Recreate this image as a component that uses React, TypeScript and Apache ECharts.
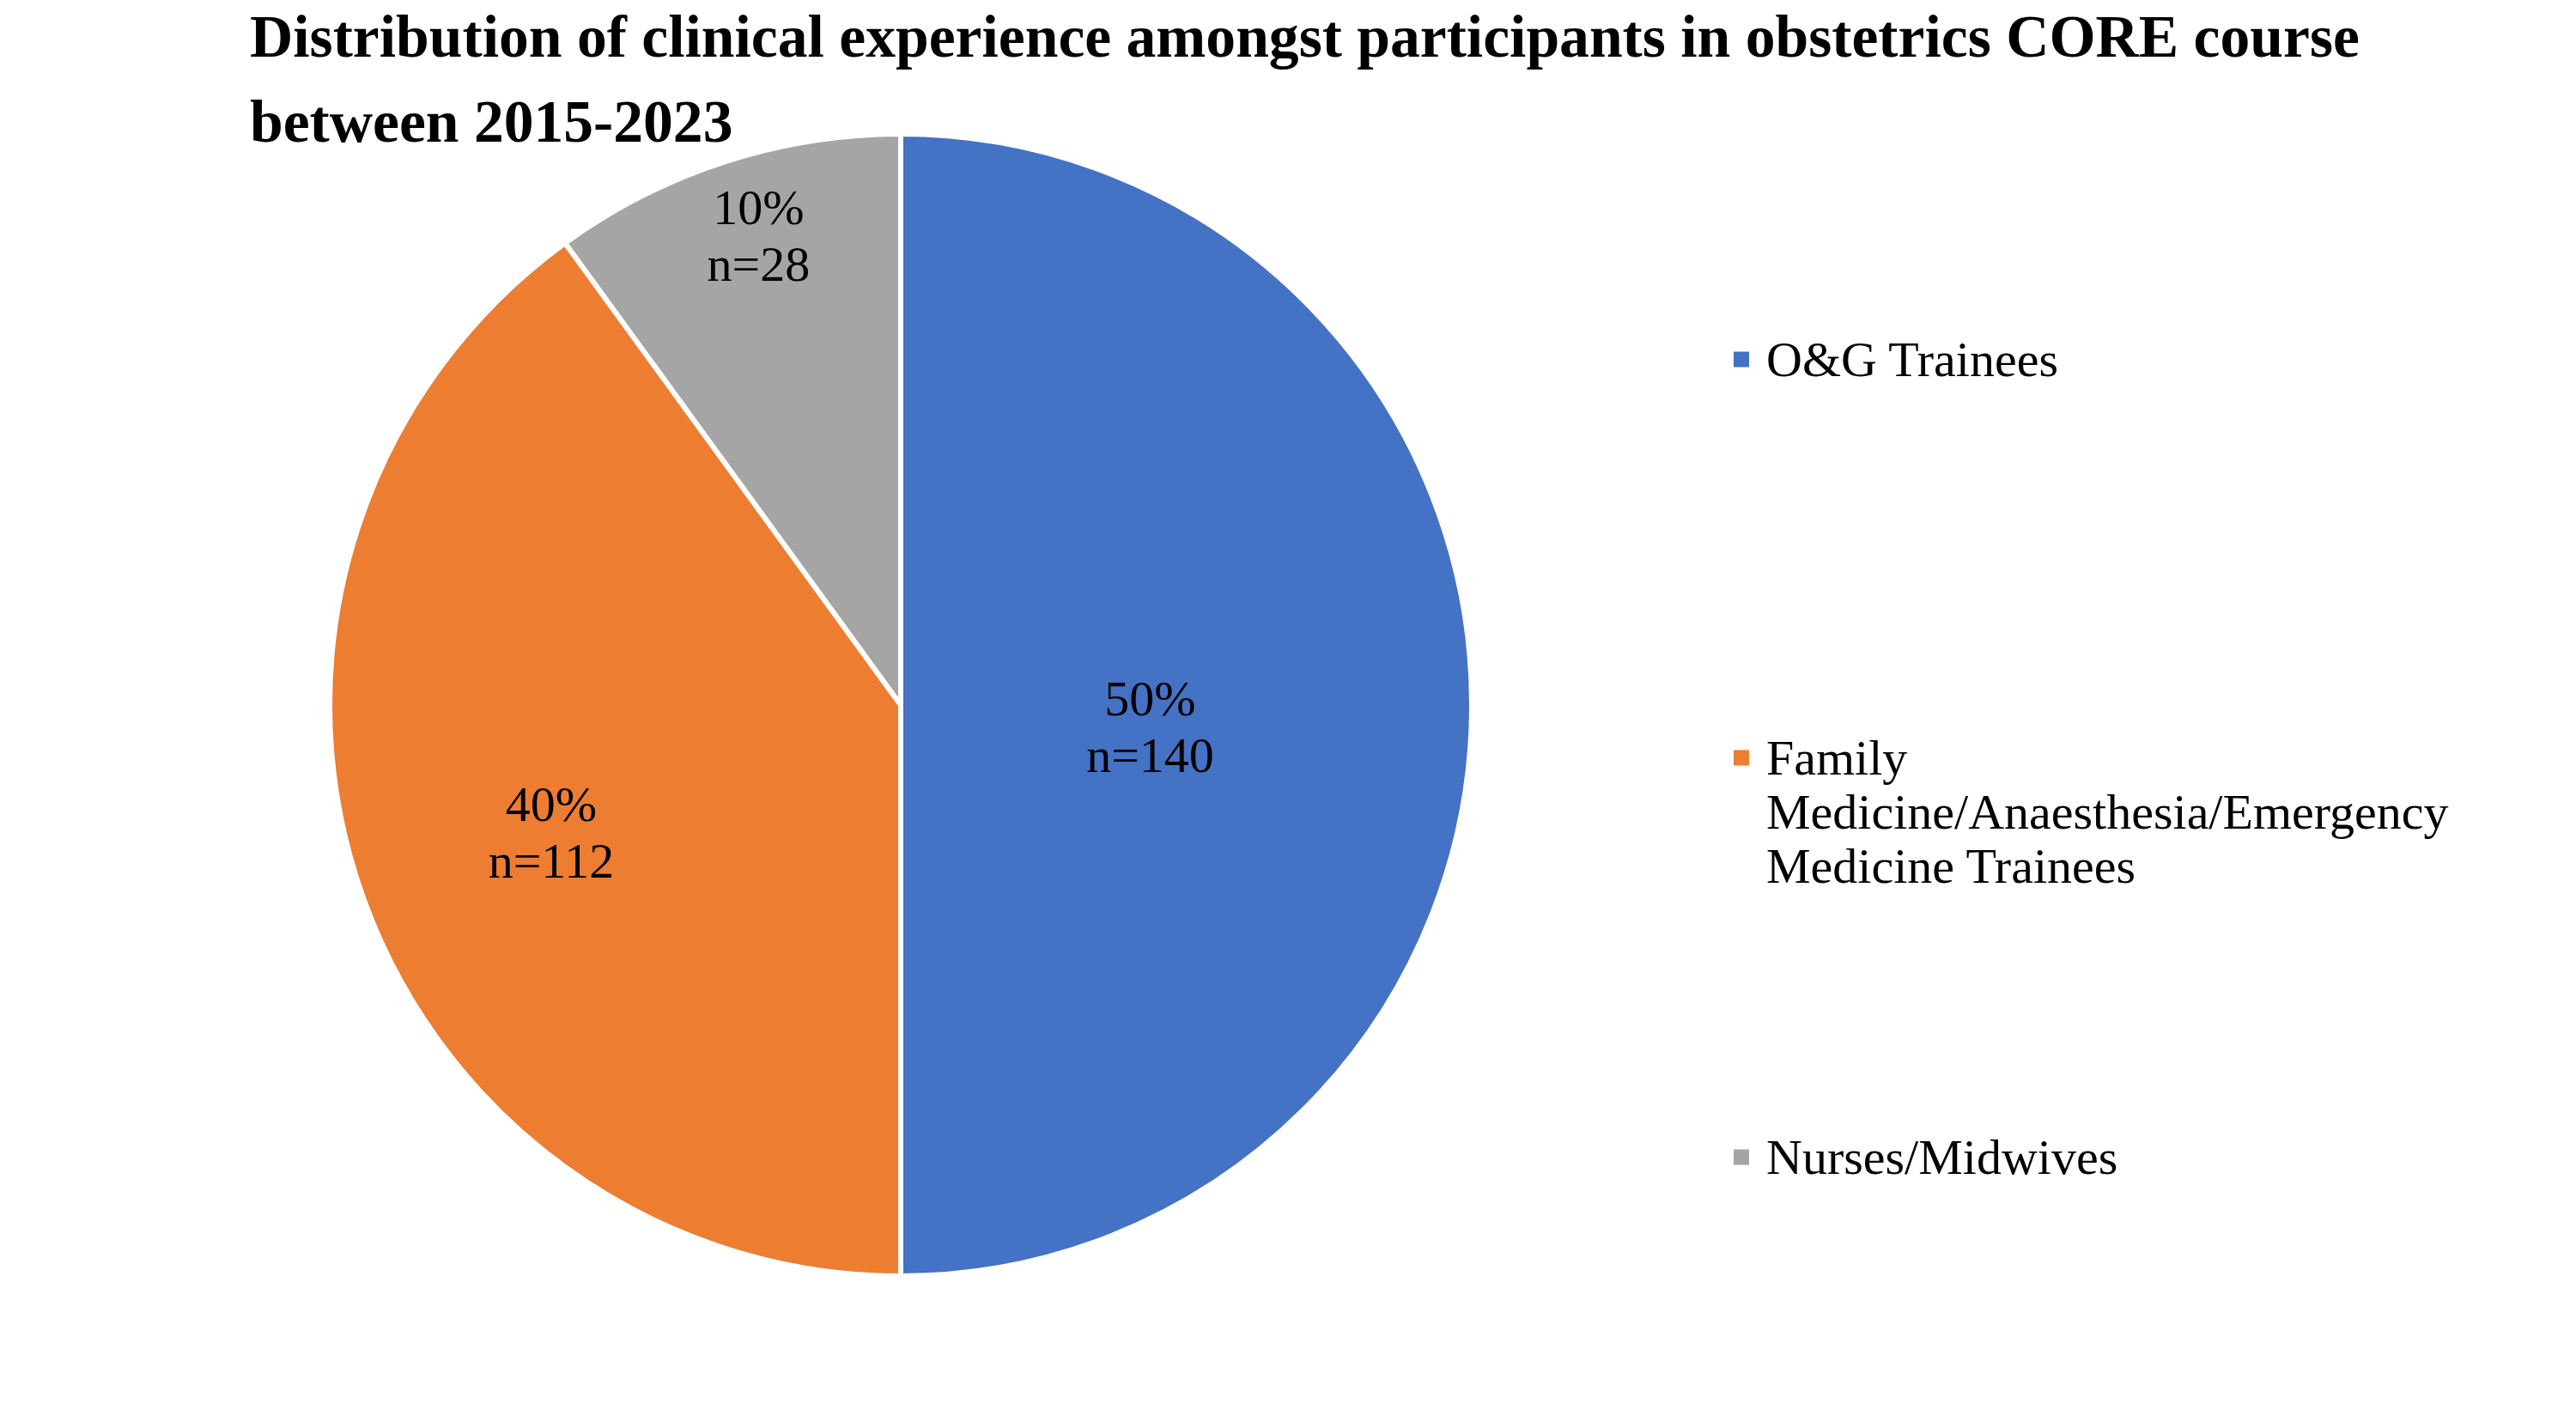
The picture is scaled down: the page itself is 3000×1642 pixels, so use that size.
import React, { useEffect, useRef } from "react";
import * as echarts from "echarts";

const titleText =
  "Distribution of clinical experience amongst participants in obstetrics CORE course\nbetween 2015-2023";
const categories = [
  "O&G Trainees",
  "Family Medicine/Anaesthesia/Emergency Medicine Trainees",
  "Nurses/Midwives",
];
const counts = [140, 112, 28];
const legendLines: Record<string, string> = {
  "Family Medicine/Anaesthesia/Emergency Medicine Trainees":
    "\n\nFamily\nMedicine/Anaesthesia/Emergency\nMedicine Trainees",
};

const colors = ["#4472C4", "#ED7D31", "#A5A5A5"];
const labelOffsets = [
  [-45, 25],
  [-88, 45],
  [-62, -227],
];
const legendTops = [387, 725, 1316];
const FONT = "'Liberation Serif', 'Times New Roman', Times, serif";

export default function App() {
  const ref = useRef<HTMLDivElement>(null);
  useEffect(() => {
    if (!ref.current) return;
    const chart = echarts.init(ref.current, undefined, { renderer: "svg" });
    const data = categories.map((name, i) => ({
      name,
      value: counts[i],
      itemStyle: { color: colors[i] },
      label: { offset: labelOffsets[i] },
    }));
    const legends = categories.map((name, i) => ({
      show: true,
      orient: "vertical",
      left: 2017,
      top: legendTops[i],
      padding: 0,
      icon: "rect",
      itemWidth: 20,
      itemHeight: 20,
      selectedMode: false,
      data: [name],
      formatter: (n: string) => legendLines[n] || n,
      textStyle: {
        fontFamily: FONT,
        fontSize: 58,
        color: "#000",
        lineHeight: 63,
        padding: [0, 0, 0, 14],
      },
    }));
    chart.setOption({
      animation: false,
      backgroundColor: "#fff",
      title: {
        text: titleText,
        left: 291,
        top: -7,
        padding: 0,
        textStyle: {
          fontFamily: FONT,
          fontWeight: "bold",
          fontSize: 69.6,
          lineHeight: 99,
          color: "#000",
        },
      },
      legend: legends,
      series: [
        {
          type: "pie",
          center: [1049, 821],
          radius: 665,
          startAngle: 90,
          clockwise: true,
          percentPrecision: 0,
          silent: true,
          emphasis: { disabled: true },
          itemStyle: { borderColor: "#fff", borderWidth: 6 },
          label: {
            show: true,
            position: "inside",
            formatter: "{d}%\nn={c}",
            fontFamily: FONT,
            fontSize: 58,
            lineHeight: 66,
            color: "#000",
          },
          labelLine: { show: false },
          data,
        },
      ],
    });
    return () => chart.dispose();
  }, []);
  return (
    <div
      ref={ref}
      style={{ position: "absolute", left: 0, top: 0, width: 3000, height: 1642 }}
    />
  );
}
